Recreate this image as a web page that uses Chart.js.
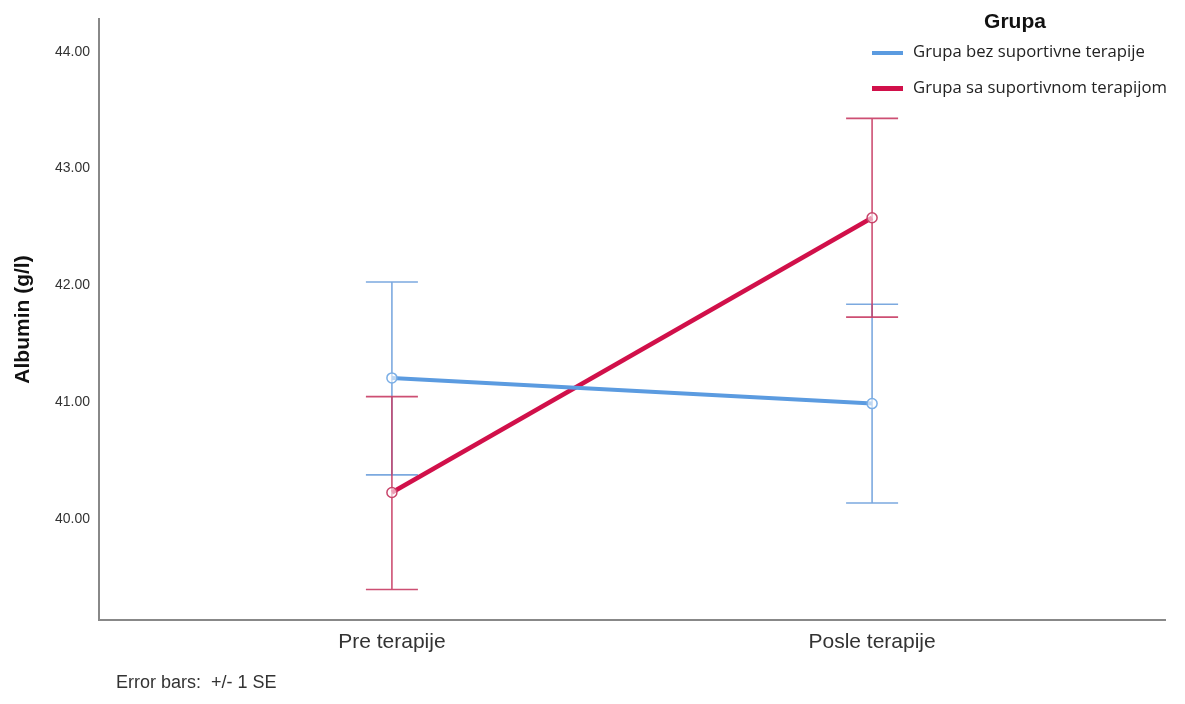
<!DOCTYPE html>
<html>
<head>
<meta charset="utf-8">
<script src="https://cdn.jsdelivr.net/npm/chart.js@4.4.1/dist/chart.umd.min.js"></script>
<style>
  html, body { margin: 0; padding: 0; background: #fff; }
  #wrap { position: relative; width: 1185px; height: 704px; }
  canvas { position: absolute; left: 0; top: 0; }
  .legend-title { position: absolute; left: 960px; top: 9px; width: 110px; text-align: center;
    font: bold 21px "Liberation Sans", Arial, sans-serif; color: #111; }
  .legend-item { position: absolute; left: 872px; font: 16.7px "Open Sans", "Liberation Sans", sans-serif; color: #222; white-space: nowrap; }
  .legend-item span.sw { display: inline-block; width: 31px; vertical-align: middle; margin-right: 10px; }
  .note { position: absolute; left: 116px; top: 672px; font: 18px "Liberation Sans", Arial, sans-serif; color: #333; white-space: pre; }
</style>
</head>
<body>
<div id="wrap">
  <canvas id="c" width="1185" height="704"></canvas>
  <div class="legend-title">Grupa</div>
  <div class="legend-item" style="top:39px"><span class="sw" style="height:4px;background:#5b9be0"></span>Grupa bez suportivne terapije</div>
  <div class="legend-item" style="top:75px"><span class="sw" style="height:5px;background:#d1104a"></span>Grupa sa suportivnom terapijom</div>
  <div class="note">Error bars:  +/- 1 SE</div>
</div>
<script>
// Time points on the x axis
const categories = ['Pre terapije', 'Posle terapije'];
const yTicks = [40, 41, 42, 43, 44];

// Group without supportive therapy: mean albumin and +/- 1 SE limits
const bezMean  = [41.21, 40.99];
const bezUpper = [42.03, 41.84];
const bezLower = [40.38, 40.14];

// Group with supportive therapy
const saMean  = [40.23, 42.58];
const saUpper = [41.05, 43.43];
const saLower = [39.40, 41.73];

const BLUE = '#5b9be0';
const RED = '#d1104a';

const toPoints = arr => arr.map((v, i) => ({ x: i, y: v }));

// Draws vertical error bars with caps under the mean lines
const errorBars = {
  id: 'errorBars',
  beforeDatasetsDraw(chart) {
    const { ctx, scales: { x, y } } = chart;
    const half = 26;
    chart.data.datasets.forEach(ds => {
      ctx.save();
      ctx.strokeStyle = ds.errColor;
      ctx.lineWidth = 1.6;
      ds.upper.forEach((hi, i) => {
        const lo = ds.lower[i];
        const px = x.getPixelForValue(i);
        const pt = y.getPixelForValue(hi);
        const pb = y.getPixelForValue(lo);
        ctx.beginPath();
        ctx.moveTo(px, pt); ctx.lineTo(px, pb);
        ctx.moveTo(px - half, pt); ctx.lineTo(px + half, pt);
        ctx.moveTo(px - half, pb); ctx.lineTo(px + half, pb);
        ctx.stroke();
      });
      ctx.restore();
    });
  }
};

new Chart(document.getElementById('c'), {
  type: 'line',
  data: {
    datasets: [
      {
        label: 'Grupa bez suportivne terapije',
        data: toPoints(bezMean),
        upper: bezUpper, lower: bezLower,
        errColor: 'rgba(110,160,220,0.9)',
        borderColor: BLUE, borderWidth: 4,
        pointRadius: 5, pointBorderWidth: 1.5,
        pointBorderColor: '#7aaee6', pointBackgroundColor: 'rgba(255,255,255,0.6)'
      },
      {
        label: 'Grupa sa suportivnom terapijom',
        data: toPoints(saMean),
        upper: saUpper, lower: saLower,
        errColor: 'rgba(200,60,100,0.9)',
        borderColor: RED, borderWidth: 4.5,
        pointRadius: 5, pointBorderWidth: 1.5,
        pointBorderColor: '#c8446a', pointBackgroundColor: 'rgba(255,255,255,0.6)'
      }
    ]
  },
  options: {
    responsive: false,
    animation: false,
    layout: { padding: { top: 19, right: 20, bottom: 0, left: 0 } },
    plugins: { legend: { display: false }, tooltip: { enabled: false } },
    scales: {
      x: {
        type: 'linear',
        min: -0.61, max: 1.61,
        afterBuildTicks: s => { s.ticks = categories.map((_, i) => ({ value: i })); },
        afterFit: s => { s.height = 84; },
        grid: { display: false, drawTicks: false },
        border: { color: '#888', width: 2 },
        ticks: {
          padding: 10,
          color: '#333',
          font: { family: 'Liberation Sans', size: 21 },
          callback: v => categories[v]
        }
      },
      y: {
        min: 39.139, max: 44.28,
        afterBuildTicks: s => { s.ticks = yTicks.map(v => ({ value: v })); },
        afterFit: s => { s.width = 99; },
        grid: { display: false, drawTicks: false },
        border: { color: '#888', width: 2 },
        title: {
          display: true, text: 'Albumin (g/l)', color: '#111',
          font: { family: 'Liberation Sans', size: 21, weight: 'bold' },
          padding: { top: 11, bottom: 0 }
        },
        ticks: {
          padding: 9,
          color: '#333',
          font: { family: 'Liberation Sans', size: 14 },
          callback: v => v.toFixed(2)
        }
      }
    }
  },
  plugins: [errorBars]
});
</script>
</body>
</html>
